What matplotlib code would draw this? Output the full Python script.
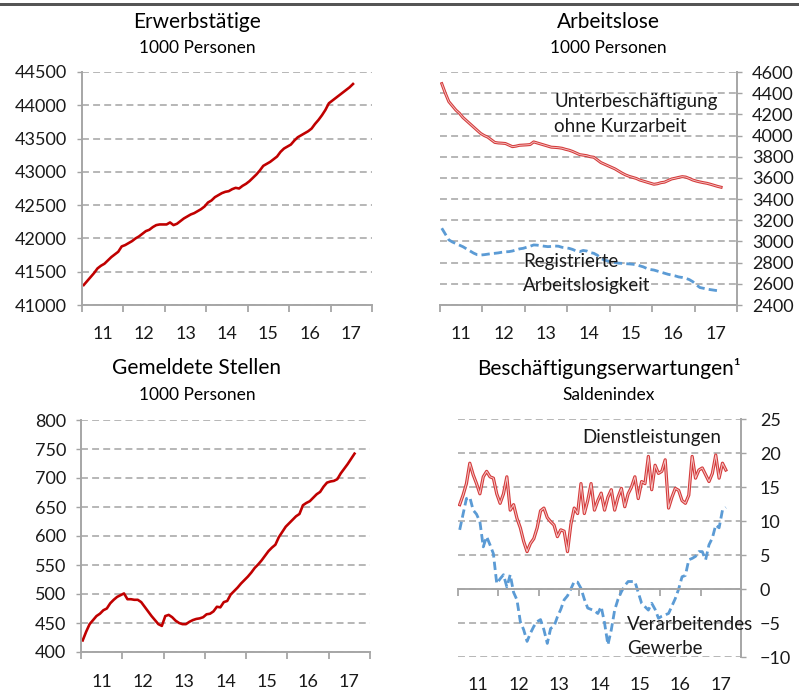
import matplotlib
matplotlib.use("Agg")
import matplotlib.pyplot as plt
import numpy as np
from matplotlib.transforms import blended_transform_factory

plt.rcParams['font.family'] = ['Lato', 'DejaVu Sans']
plt.rcParams['lines.scale_dashes'] = False

# ---------------- data ----------------
year_labels = ["11", "12", "13", "14", "15", "16", "17"]

# Erwerbstätige, 1000 Personen (monthly from Jan 2011)
erwerbstaetige = [
    41300, 41360, 41420, 41480, 41550, 41590, 41620, 41670, 41720, 41760, 41800, 41880,
    41900, 41930, 41960, 42000, 42030, 42070, 42110, 42130, 42170, 42200, 42210, 42210,
    42210, 42240, 42200, 42220, 42260, 42300, 42330, 42360, 42380, 42410, 42440, 42480,
    42540, 42570, 42620, 42650, 42680, 42700, 42710, 42740, 42760, 42750, 42790, 42820,
    42860, 42910, 42960, 43020, 43090, 43120, 43150, 43190, 43230, 43300, 43350, 43380,
    43410, 43470, 43520, 43550, 43580, 43610, 43650, 43720, 43780, 43850, 43930, 44030,
    44070, 44110, 44150, 44190, 44230, 44270, 44320,
]

# Arbeitslose, 1000 Personen
unterbeschaeftigung = [
    4490, 4400, 4320, 4280, 4240, 4210, 4170, 4140, 4110, 4080, 4050, 4020,
    4000, 3985, 3960, 3935, 3930, 3928, 3925, 3910, 3895, 3900, 3908, 3910,
    3912, 3915, 3940, 3930, 3920, 3910, 3900, 3890, 3888, 3885, 3880, 3870,
    3862, 3850, 3835, 3820, 3815, 3810, 3800, 3795, 3770, 3745, 3730, 3715,
    3700, 3685, 3665, 3645, 3628, 3615, 3605, 3595, 3580, 3570, 3560, 3550,
    3540, 3545, 3555, 3560, 3575, 3590, 3597, 3605, 3612, 3608, 3595, 3580,
    3570, 3562, 3555, 3549, 3540, 3530, 3520, 3512,
]
registrierte_al = [
    3125, 3070, 3015, 2995, 2980, 2965, 2950, 2930, 2910, 2890, 2875, 2872,
    2875, 2880, 2885, 2888, 2892, 2898, 2902, 2904, 2910, 2920, 2930, 2935,
    2945, 2955, 2967, 2965, 2960, 2955, 2951, 2953, 2957, 2955, 2945, 2940,
    2935, 2925, 2910, 2904, 2915, 2910, 2895, 2888, 2870, 2840, 2825, 2815,
    2805, 2800, 2795, 2793, 2790, 2788, 2785, 2780, 2770, 2760, 2745, 2735,
    2730, 2720, 2710, 2700, 2690, 2683, 2675, 2665, 2660, 2652, 2640, 2620,
    2590, 2565, 2558, 2550, 2545, 2540, 2535,
]

# Gemeldete Stellen, 1000 Personen
gemeldete_stellen = [
    420, 435, 448, 455, 462, 466, 472, 475, 484, 490, 495, 498,
    501, 491, 491, 490, 490, 486, 478, 470, 462, 455, 448, 445,
    462, 464, 460, 454, 450, 448, 448, 452, 455, 457, 458, 460,
    465, 466, 470, 478, 477, 486, 488, 499, 505, 511, 518, 524,
    530, 537, 545, 551, 558, 566, 574, 580, 585, 598, 607, 616,
    622, 628, 634, 638, 653, 657, 660, 666, 672, 676, 685, 692,
    694, 695, 698, 708, 716, 724, 733, 742,
]

# Beschäftigungserwartungen, Saldenindex
dienstleistungen = [
    12.4, 13.8, 15.5, 18.5, 16.8, 15.5, 14.0, 16.5, 17.3, 16.5, 16.3, 14.0,
    12.6, 14.0, 16.5, 11.6, 12.4, 10.4, 9.0, 7.0, 5.5, 6.7, 7.4, 9.0,
    11.5, 11.9, 10.5, 9.9, 9.4, 7.7, 8.7, 8.5, 5.5, 9.5, 11.9, 11.1,
    15.5, 11.1, 13.0, 15.5, 11.6, 13.0, 14.1, 11.6, 13.5, 14.6, 11.6, 13.5,
    14.8, 12.1, 14.0, 15.0, 16.5, 13.3, 15.8, 15.5, 19.5, 14.6, 18.2, 17.0,
    17.3, 19.0, 11.9, 13.5, 14.8, 14.5, 13.0, 12.6, 13.8, 19.5, 16.3, 17.5,
    17.8, 16.8, 15.8, 17.0, 19.7, 16.3, 18.5, 17.5,
]
verarbeitendes_gewerbe = [
    8.7, 11.0, 13.3, 13.5, 11.6, 11.0, 9.9, 6.2, 7.7, 6.5, 5.2, 0.8,
    1.5, 2.1, 0.3, 2.1, -0.5, -1.6, -4.8, -6.0, -7.7, -6.5, -5.5, -4.8,
    -4.5, -6.0, -8.0, -5.8, -5.5, -4.1, -3.0, -1.6, -1.0, 0.0, 1.1, 1.0,
    0.1, -1.5, -2.8, -3.0, -3.2, -3.6, -2.6, -5.0, -8.2, -6.0, -3.1, -1.5,
    -0.4, 0.5, 1.1, 1.1, 1.1, -0.5, -2.1, -2.6, -3.1, -2.1, -3.0, -4.3,
    -4.0, -3.8, -3.6, -2.5, -1.4, 0.0, 1.8, 2.0, 4.3, 4.5, 4.8, 5.5,
    5.5, 4.3, 6.5, 7.5, 9.4, 9.0, 11.6, 12.0,
]


def months(series):
    return 2011 + (np.arange(len(series)) + 0.5) / 12.0


# ---------------- styling ----------------
W, H = 799, 699
fig = plt.figure(figsize=(W / 100, H / 100), dpi=100)

DARKRED = '#c00000'
RED = '#d43a3a'
RED_IN = '#f5c4c4'
BLUE = '#5b9bd5'
GRID = '#a3a3a3'
SPINE = '#a6a6a6'
TXT = '#1a1a1a'
PX = 0.72  # points per pixel
TICK_FS = 13
LBL_FS = 13.5


def add_ax(l, t, r, b):
    return fig.add_axes([l / W, 1 - b / H, (r - l) / W, (b - t) / H])


def setup(ax, ylim, yticks, side, label_drop):
    ax.set_xlim(2011, 2018)
    ax.set_ylim(*ylim)
    ax.set_yticks(yticks)
    ax.set_xticks(range(2011, 2019))
    ax.set_xticklabels([])
    ax.tick_params(axis='x', length=7 * PX, width=1.3, color=SPINE, direction='out')
    ax.tick_params(axis='y', length=5 * PX, width=1.0, color=GRID, labelsize=TICK_FS,
                   labelcolor=TXT, pad=10 * PX)
    ax.spines['top'].set_visible(False)
    if side == 'left':
        ax.spines['right'].set_visible(False)
        ax.spines['left'].set_color(SPINE)
        ax.spines['left'].set_linewidth(1.4)
    else:
        ax.spines['left'].set_visible(False)
        ax.spines['right'].set_color(SPINE)
        ax.spines['right'].set_linewidth(1.4)
        ax.yaxis.tick_right()
    ax.spines['bottom'].set_color(SPINE)
    ax.spines['bottom'].set_linewidth(1.4)
    ax.grid(axis='y', color=GRID, linewidth=1.1, linestyle=(0, (5, 3)))
    ax.set_axisbelow(True)
    ax.patch.set_visible(False)
    tr = blended_transform_factory(ax.transData, ax.transAxes)
    for i, lab in enumerate(year_labels):
        ax.annotate(lab, xy=(2011 + i + 0.5, 0), xycoords=tr,
                    xytext=(0, -label_drop * PX), textcoords='offset points',
                    ha='center', va='center', fontsize=TICK_FS, color=TXT)


def titles(cx, y1, y2, t1, t2):
    fig.text(cx / W, 1 - y1 / H, t1, ha='center', va='center', fontsize=15, color='black')
    fig.text(cx / W, 1 - y2 / H, t2, ha='center', va='center', fontsize=12.5, color='black')


# top rule
fig.add_artist(plt.Line2D([0, 1], [1 - 4 / H, 1 - 4 / H], color='#555555', lw=3 * PX))

# Panel 1: Erwerbstätige
ax1 = add_ax(82, 72, 372, 305)
setup(ax1, (41000, 44500), range(41000, 44501, 500), 'left', 29)
ax1.plot(months(erwerbstaetige), erwerbstaetige, color=DARKRED, lw=2.6 * PX, solid_joinstyle='round')
titles(197, 22, 48, 'Erwerbstätige', '1000 Personen')

# Panel 2: Arbeitslose
ax2 = add_ax(440, 72, 737, 305)
setup(ax2, (2400, 4600), range(2400, 4601, 200), 'right', 29)
x = months(unterbeschaeftigung)
ax2.plot(x, unterbeschaeftigung, color=RED, lw=3.0 * PX, solid_joinstyle='round')
ax2.plot(x, unterbeschaeftigung, color=RED_IN, lw=0.9 * PX, solid_joinstyle='round')
ax2.plot(months(registrierte_al), registrierte_al, color=BLUE, lw=2.8 * PX,
         linestyle=(0, (6, 3)))
titles(608, 22, 48, 'Arbeitslose', '1000 Personen')
fig.text(554 / W, 1 - 102 / H, 'Unterbeschäftigung', ha='left', va='center', fontsize=LBL_FS, color=TXT)
fig.text(554 / W, 1 - 126 / H, 'ohne Kurzarbeit', ha='left', va='center', fontsize=LBL_FS, color=TXT)
fig.text(523 / W, 1 - 261 / H, 'Registrierte', ha='left', va='center', fontsize=LBL_FS, color=TXT)
fig.text(523 / W, 1 - 285 / H, 'Arbeitslosigkeit', ha='left', va='center', fontsize=LBL_FS, color=TXT)

# Panel 3: Gemeldete Stellen
ax3 = add_ax(81, 420, 370, 652)
setup(ax3, (400, 800), range(400, 801, 50), 'left', 30)
ax3.plot(months(gemeldete_stellen), gemeldete_stellen, color=DARKRED, lw=2.6 * PX, solid_joinstyle='round')
titles(197, 368, 395, 'Gemeldete Stellen', '1000 Personen')

# Panel 4: Beschäftigungserwartungen
ax4 = add_ax(458, 419, 741, 657)
setup(ax4, (-10, 25), range(-10, 26, 5), 'right', 28)
ax4.spines['bottom'].set_position(('data', 0))
ax4.tick_params(axis='y', pad=14 * PX)
x = months(dienstleistungen)
ax4.plot(x, dienstleistungen, color=RED, lw=3.2 * PX, solid_joinstyle='round')
ax4.plot(x, dienstleistungen, color=RED_IN, lw=1.0 * PX, solid_joinstyle='round')
ax4.plot(months(verarbeitendes_gewerbe), verarbeitendes_gewerbe, color=BLUE, lw=2.8 * PX,
         linestyle=(0, (6, 3)))
titles(609, 368, 395, 'Beschäftigungserwartungen¹', 'Saldenindex')
fig.text(582 / W, 1 - 437 / H, 'Dienstleistungen', ha='left', va='center', fontsize=LBL_FS, color=TXT)
fig.text(627 / W, 1 - 624 / H, 'Verarbeitendes', ha='left', va='center', fontsize=LBL_FS, color=TXT)
fig.text(627 / W, 1 - 648 / H, 'Gewerbe', ha='left', va='center', fontsize=LBL_FS, color=TXT)

fig.savefig('out.png', dpi=100)
